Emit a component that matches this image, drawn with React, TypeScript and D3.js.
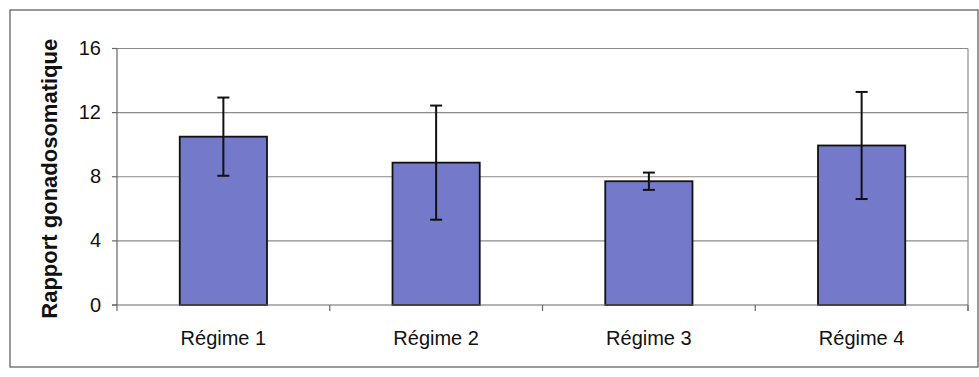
import React from "react";
import * as d3 from "d3";

const categories = ["Régime 1", "Régime 2", "Régime 3", "Régime 4"];
const means = [10.5, 8.88, 7.72, 9.95];
const errors = [2.44, 3.56, 0.54, 3.34];
const yTicks = [0, 4, 8, 12, 16];
const yTitle = "Rapport gonadosomatique";

const W = 979;
const H = 377;
const left = 117;
const right = 968;
const top = 48.5;
const bottom = 305;

export default function App() {
  const x = d3.scaleBand<string>().domain(categories).range([left, right]).paddingInner(0.59).paddingOuter(0.295);
  const step = (right - left) / categories.length;
  const y = d3.scaleLinear().domain([0, 16]).range([bottom, top]);
  const font = "Arial, 'Liberation Sans', sans-serif";
  const capW = 12;
  return (
    <svg width={W} height={H} style={{ position: "absolute", left: 0, top: 0, background: "#fff" }}>
      <rect x={10} y={10} width={968} height={357} fill="#fff" stroke="#555" strokeWidth={1.2} />
      {yTicks.filter((t) => t > 0).map((t) => (
        <line key={"g" + t} x1={left} x2={right} y1={y(t)} y2={y(t)} stroke="#8a8a8a" strokeWidth={1.2} />
      ))}
      <line x1={right} x2={right} y1={top} y2={bottom + 6} stroke="#8a8a8a" strokeWidth={1.2} />
      {categories.map((c, i) => (
        <line key={"ct" + i} x1={left + step * (i + 1)} x2={left + step * (i + 1)} y1={bottom} y2={bottom + 6} stroke="#666" strokeWidth={1.2} />
      ))}
      {categories.map((c, i) => (
        <rect key={"b" + i} x={x(c)} y={y(means[i])} width={x.bandwidth()} height={bottom - y(means[i])} fill="#7579c9" stroke="#111" strokeWidth={1.8} />
      ))}
      {categories.map((c, i) => {
        const cx = (x(c) as number) + x.bandwidth() / 2;
        const hi = y(means[i] + errors[i]);
        const lo = y(means[i] - errors[i]);
        return (
          <g key={"e" + i} stroke="#111" strokeWidth={2}>
            <line x1={cx} x2={cx} y1={hi} y2={lo} />
            <line x1={cx - capW / 2} x2={cx + capW / 2} y1={hi} y2={hi} />
            <line x1={cx - capW / 2} x2={cx + capW / 2} y1={lo} y2={lo} />
          </g>
        );
      })}
      <line x1={left} x2={left} y1={top} y2={bottom + 6} stroke="#666" strokeWidth={1.2} />
      <line x1={left - 5} x2={right} y1={bottom} y2={bottom} stroke="#666" strokeWidth={1.2} />
      {yTicks.map((t) => (
        <g key={"t" + t}>
          <line x1={left - 5} x2={left} y1={y(t)} y2={y(t)} stroke="#666" strokeWidth={1.2} />
          <text x={101} y={y(t)} dy="0.33em" textAnchor="end" fontFamily={font} fontSize={20} fill="#111">
            {t}
          </text>
        </g>
      ))}
      {categories.map((c, i) => (
        <text key={"l" + i} x={(x(c) as number) + x.bandwidth() / 2} y={345} textAnchor="middle" fontFamily={font} fontSize={20} fill="#111">
          {c}
        </text>
      ))}
      <text transform={`translate(57, ${(top + bottom) / 2 + 2}) rotate(-90)`} textAnchor="middle" fontFamily={font} fontSize={22} fontWeight="bold" fill="#111">
        {yTitle}
      </text>
    </svg>
  );
}
